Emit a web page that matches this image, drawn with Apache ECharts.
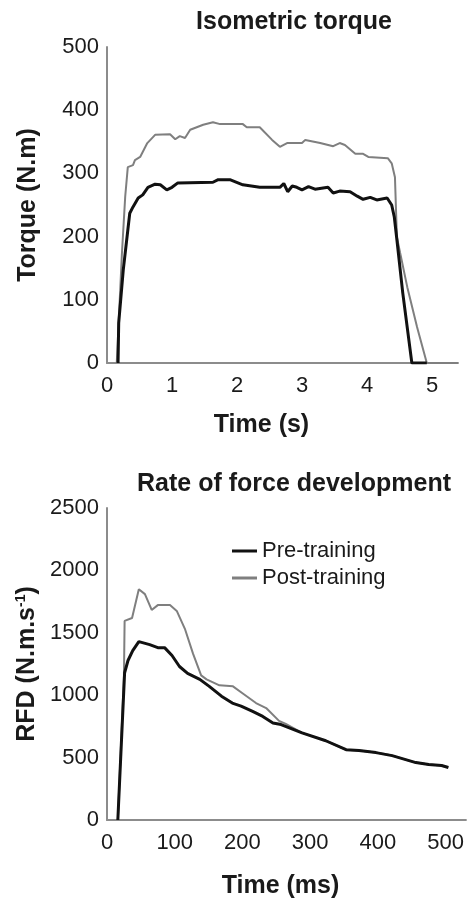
<!DOCTYPE html>
<html>
<head>
<meta charset="utf-8">
<script src="https://cdn.jsdelivr.net/npm/echarts@6/dist/echarts.min.js"></script>
<style>
    html, body { margin: 0; padding: 0; background: #fff; }
    #chartMain { width: 467px; height: 900px; }
</style>
</head>
<body>
<div id="chartMain"></div>
<script>
// isometric torque (s, N.m)
var torquePreT = [0.17, 0.18, 0.25, 0.32, 0.35, 0.40, 0.48, 0.55, 0.63, 0.74, 0.82, 0.92, 1.00, 1.09, 1.63, 1.71, 1.89, 2.09, 2.35, 2.66, 2.72, 2.78, 2.85, 2.92, 3.00, 3.10, 3.20, 3.40, 3.48, 3.58, 3.74, 3.85, 3.94, 4.05, 4.15, 4.31, 4.38, 4.42, 4.46, 4.55, 4.69, 4.92];
var torquePreV = [0, 63, 147, 210, 237, 247, 261, 266, 278, 283, 282, 274, 278, 285, 286, 290, 290, 282, 278, 278, 284, 271, 280, 278, 274, 279, 275, 278, 269, 272, 271, 264, 259, 262, 258, 261, 250, 231, 195, 111, 0, 0];
var torquePostT = [0.15, 0.23, 0.28, 0.32, 0.40, 0.43, 0.51, 0.62, 0.74, 0.97, 1.05, 1.12, 1.20, 1.28, 1.38, 1.48, 1.63, 1.74, 2.09, 2.15, 2.35, 2.54, 2.66, 2.77, 3.00, 3.05, 3.28, 3.48, 3.58, 3.66, 3.82, 3.94, 4.02, 4.32, 4.38, 4.43, 4.46, 4.51, 4.62, 4.77, 4.92, 5.40];
var torquePostV = [0, 174, 263, 310, 313, 321, 326, 348, 361, 362, 354, 359, 356, 369, 373, 377, 381, 378, 378, 373, 373, 353, 342, 348, 348, 353, 348, 343, 348, 345, 331, 331, 326, 324, 316, 294, 199, 174, 120, 57, 0, 0];

// rate of force development (ms, N.m.s-1)
var rfdPreT = [16, 26, 31, 38, 47, 63, 75, 85, 96, 107, 119, 137, 151, 169, 185, 198, 215, 230, 245, 257, 288, 323, 353, 372, 397, 421, 456, 475, 494, 504];
var rfdPreV = [0, 1180, 1278, 1357, 1429, 1405, 1381, 1381, 1318, 1230, 1175, 1127, 1071, 992, 937, 913, 870, 830, 778, 765, 698, 635, 563, 556, 540, 516, 460, 444, 437, 421];
var rfdPostT = [16, 25, 26, 37, 47, 56, 66, 75, 93, 103, 115, 127, 139, 147, 166, 186, 200, 220, 235, 254, 264, 288, 323, 353, 372, 397, 421, 456, 475, 494, 504];
var rfdPostV = [0, 1150, 1595, 1619, 1849, 1810, 1683, 1722, 1722, 1675, 1532, 1333, 1159, 1127, 1079, 1071, 1016, 937, 897, 794, 770, 698, 635, 563, 556, 540, 516, 460, 444, 437, 421];

var seriesNames = ['Pre-training', 'Post-training'];
var torqueTicks = [0, 1, 2, 3, 4, 5];

function zip(xs, ys) {
    var out = [];
    for (var i = 0; i < xs.length; i++) {
        out.push([xs[i], ys[i]]);
    }
    return out;
}

function plain(v) {
    return String(v);
}

var FONT = '"Liberation Sans", Arial, sans-serif';
var TXT = '#1a1a1a';
var PRE_COLOR = '#111';
var POST_COLOR = '#7f7f7f';
var AXIS = { show: true, lineStyle: { color: '#8c8c8c', width: 2 } };

function valueAxis(idx, opts) {
    var ax = {
        type: 'value',
        gridIndex: idx,
        axisLine: AXIS,
        axisTick: { show: false },
        splitLine: { show: false },
        axisLabel: { color: TXT, fontFamily: FONT, fontSize: 22, margin: 8, formatter: plain },
        nameLocation: 'middle',
        nameTextStyle: { color: TXT, fontFamily: FONT, fontSize: 25, fontWeight: 'bold' }
    };
    for (var k in opts) {
        ax[k] = opts[k];
    }
    return ax;
}

var chartMain = echarts.init(document.getElementById('chartMain'));

var opt = {
    animation: false,
    backgroundColor: '#fff',
    graphic: [
        {
            type: 'text', x: 294, y: 22,
            style: { text: 'Isometric torque', align: 'center', verticalAlign: 'middle',
                     fill: TXT, font: 'bold 25px ' + FONT }
        },
        {
            type: 'text', x: 294, y: 484,
            style: { text: 'Rate of force development', align: 'center', verticalAlign: 'middle',
                     fill: TXT, font: 'bold 25px ' + FONT }
        }
    ],
    legend: {
        data: [
            { name: seriesNames[0], icon: 'rect', itemStyle: { color: PRE_COLOR } },
            { name: seriesNames[1], icon: 'rect', itemStyle: { color: POST_COLOR } }
        ],
        orient: 'vertical',
        left: 227,
        top: 535,
        itemWidth: 25,
        itemHeight: 3,
        itemGap: 5,
        textStyle: { color: TXT, fontFamily: FONT, fontSize: 22 }
    },
    grid: [
        { left: 107, top: 47, width: 351, height: 316 },
        { left: 107, top: 508, width: 360, height: 315 }
    ],
    xAxis: [
        valueAxis(0, {
            min: 0, max: 5.4, interval: 1,
            axisLabel: {
                color: TXT, fontFamily: FONT, fontSize: 22, margin: 12,
                customValues: torqueTicks, formatter: plain
            },
            name: 'Time (s)', nameGap: 50,
            nameTextStyle: { color: TXT, fontFamily: FONT, fontSize: 25, fontWeight: 'bold', padding: [0, 42, 0, 0] }
        }),
        valueAxis(1, {
            min: 0, max: 530, interval: 100,
            axisLabel: { color: TXT, fontFamily: FONT, fontSize: 22, margin: 12, showMaxLabel: false, formatter: plain },
            name: 'Time (ms)', nameGap: 54,
            nameTextStyle: { color: TXT, fontFamily: FONT, fontSize: 25, fontWeight: 'bold', padding: [0, 12, 0, 0] }
        })
    ],
    yAxis: [
        valueAxis(0, {
            min: 0, max: 500, interval: 100,
            name: 'Torque (N.m)', nameGap: 66
        }),
        valueAxis(1, {
            min: 0, max: 2500, interval: 500,
            name: 'RFD (N.m.s{sup|-1})', nameGap: 66,
            nameTextStyle: {
                color: TXT, fontFamily: FONT, fontSize: 25, fontWeight: 'bold',
                rich: { sup: { fontSize: 14, fontWeight: 'bold', fontFamily: FONT, color: TXT, verticalAlign: 'top', padding: [0, 0, 10, 0] } }
            }
        })
    ],
    series: [
        {
            name: seriesNames[1], type: 'line', xAxisIndex: 0, yAxisIndex: 0,
            symbol: 'none', lineStyle: { color: POST_COLOR, width: 2 }, itemStyle: { color: POST_COLOR },
            data: zip(torquePostT, torquePostV)
        },
        {
            name: seriesNames[0], type: 'line', xAxisIndex: 0, yAxisIndex: 0,
            symbol: 'none', lineStyle: { color: PRE_COLOR, width: 3 }, itemStyle: { color: PRE_COLOR },
            data: zip(torquePreT, torquePreV)
        },
        {
            name: seriesNames[1], type: 'line', xAxisIndex: 1, yAxisIndex: 1,
            symbol: 'none', lineStyle: { color: POST_COLOR, width: 2 }, itemStyle: { color: POST_COLOR },
            data: zip(rfdPostT, rfdPostV)
        },
        {
            name: seriesNames[0], type: 'line', xAxisIndex: 1, yAxisIndex: 1,
            symbol: 'none', lineStyle: { color: PRE_COLOR, width: 3 }, itemStyle: { color: PRE_COLOR },
            data: zip(rfdPreT, rfdPreV)
        }
    ]
};

chartMain.setOption(opt, true);
</script>
</body>
</html>
